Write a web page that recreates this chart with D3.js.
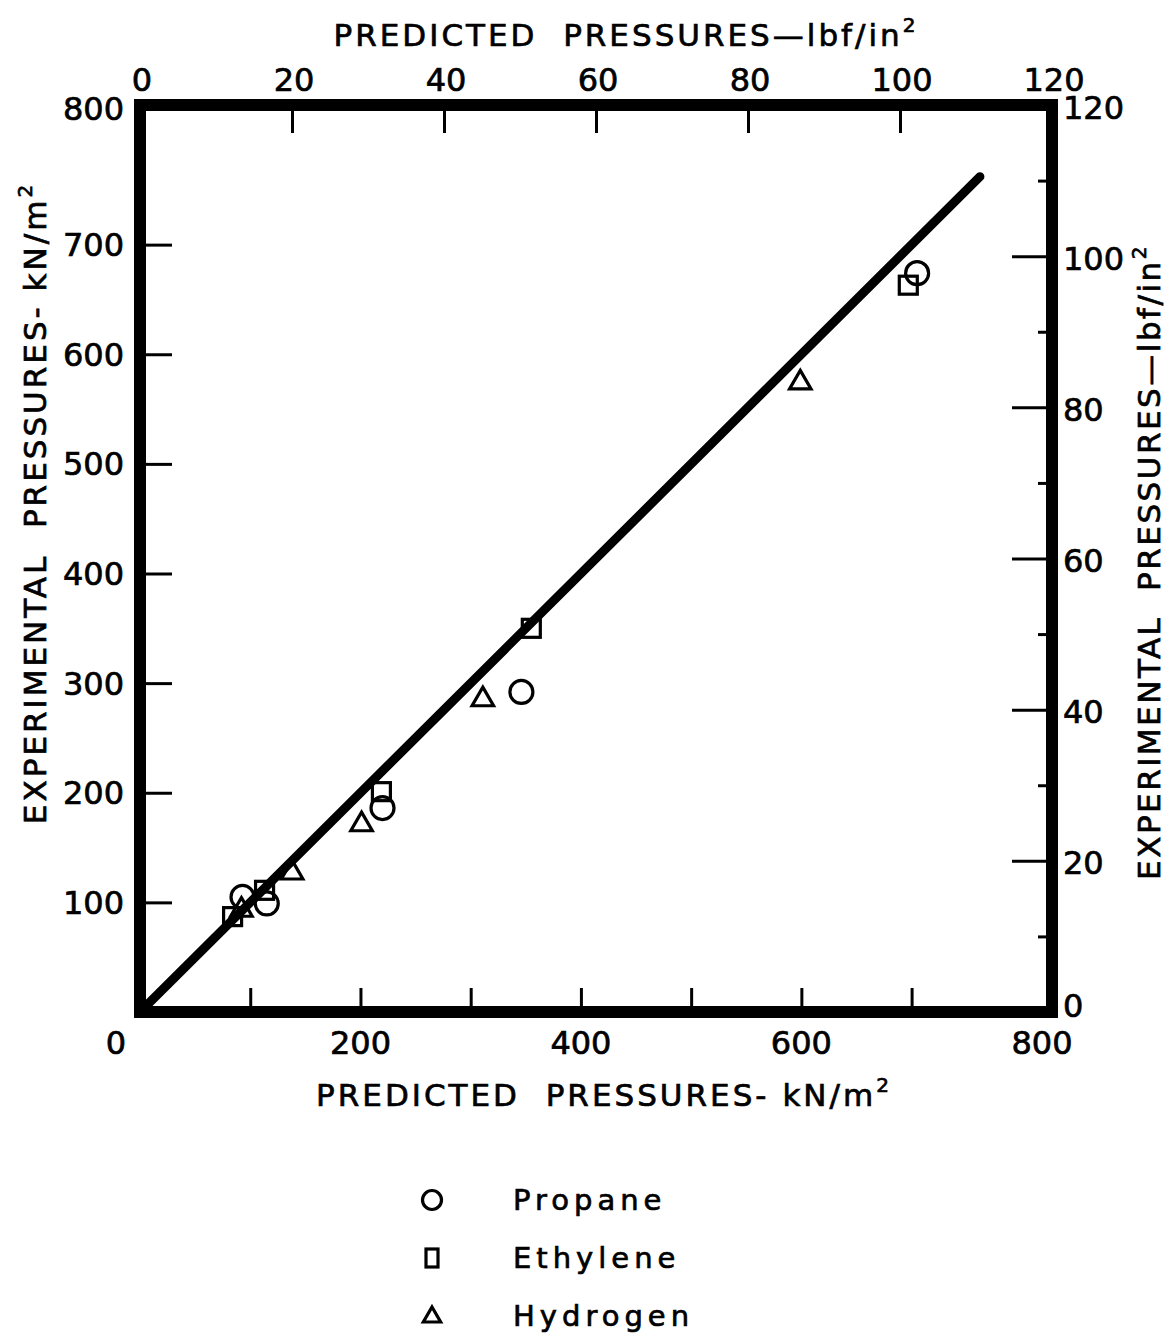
<!DOCTYPE html>
<html>
<head>
<meta charset="utf-8">
<script src="https://cdn.jsdelivr.net/npm/d3@7/dist/d3.min.js"></script>
<style>
  html, body { margin: 0; padding: 0; background: #fff; }
  svg { display: block; }
  text { font-family: "DejaVu Sans", sans-serif; fill: #000; stroke: #000; stroke-width: 0.7px; }
</style>
</head>
<body>
<svg id="chart" width="1169" height="1336"></svg>
<script>
// Predicted vs experimental pressures (kN/m^2), one pair of arrays per gas
const propaneX  = [705, 346, 220, 115, 93];
const propaneY  = [674, 292, 186, 99, 105];
const ethyleneX = [697, 355, 219, 113, 84];
const ethyleneY = [663, 350, 201, 111, 87];
const hydrogenX = [599, 311, 201, 138, 92];
const hydrogenY = [574, 285, 171, 127, 93];

// Line of perfect agreement
const lineX = [0, 762];
const lineY = [0, 762];

// Tick values
const kNTicks = [100, 200, 300, 400, 500, 600, 700];
const kNLabelsBottom = [200, 400, 600];
const kNLabelsLeft = [100, 200, 300, 400, 500, 600, 700];
const lbfMajor = [20, 40, 60, 80, 100];
const lbfMinor = [10, 30, 50, 70, 90, 110];
const lbfLabels = [0, 20, 40, 60, 80, 100, 120];

const legendNames = ["Propane", "Ethylene", "Hydrogen"];

const KN_PER_LBF = 6.894757;
const lbfMax = 120;
const kNMax = lbfMax * KN_PER_LBF;

const svg = d3.select("#chart");
const L = 140, R = 1052, T = 105, B = 1012;

const xKN = d3.scaleLinear().domain([0, kNMax]).range([L, R]);
const yKN = d3.scaleLinear().domain([0, kNMax]).range([B, T]);
const xLbf = d3.scaleLinear().domain([0, lbfMax]).range([L, R]);
const yLbf = d3.scaleLinear().domain([0, lbfMax]).range([B, T]);

const tickFont = 32;

// Tick marks, drawn inward from the frame
function tickLines(axis, tickLen) {
  return g => {
    g.call(axis.tickSize(-tickLen).tickFormat(""));
    g.select(".domain").remove();
    g.selectAll(".tick line").attr("stroke", "#000").attr("stroke-width", 3);
  };
}

svg.append("g").attr("transform", `translate(0,${B})`)
  .call(tickLines(d3.axisBottom(xKN).tickValues(kNTicks), 24));
svg.append("g").attr("transform", `translate(${L},0)`)
  .call(tickLines(d3.axisLeft(yKN).tickValues(kNTicks), 32));
svg.append("g").attr("transform", `translate(0,${T})`)
  .call(tickLines(d3.axisTop(xLbf).tickValues(lbfMajor), 28));
svg.append("g").attr("transform", `translate(${R},0)`)
  .call(tickLines(d3.axisRight(yLbf).tickValues(lbfMajor), 40));
svg.append("g").attr("transform", `translate(${R},0)`)
  .call(tickLines(d3.axisRight(yLbf).tickValues(lbfMinor), 14));

// Heavy frame
svg.append("rect")
  .attr("x", L).attr("y", T)
  .attr("width", R - L).attr("height", B - T)
  .attr("fill", "none").attr("stroke", "#000").attr("stroke-width", 12);

// Tick labels
const labels = svg.append("g").attr("font-size", tickFont);

labels.selectAll(".lb").data(kNLabelsBottom).join("text")
  .attr("x", d => xKN(d)).attr("y", B + 42)
  .attr("text-anchor", "middle").text(d => d);
labels.append("text").attr("x", L - 24).attr("y", B + 42)
  .attr("text-anchor", "middle").text("0");
labels.append("text").attr("x", R - 10).attr("y", B + 42)
  .attr("text-anchor", "middle").text("800");

labels.selectAll(".ll").data(kNLabelsLeft).join("text")
  .attr("x", L - 16).attr("y", d => yKN(d))
  .attr("dy", "0.36em").attr("text-anchor", "end").text(d => d);
labels.append("text").attr("x", L - 16).attr("y", T + 3)
  .attr("dy", "0.36em").attr("text-anchor", "end").text("800");

labels.selectAll(".lt").data(lbfLabels).join("text")
  .attr("x", d => xLbf(d) + 2).attr("y", T - 14)
  .attr("text-anchor", "middle").text(d => d);

labels.selectAll(".lr").data(lbfLabels).join("text")
  .attr("x", R + 11).attr("y", d => yLbf(d) + (d === 0 ? -7 : 2))
  .attr("dy", "0.36em").attr("text-anchor", "start").text(d => d);

// Axis titles with superscript unit
function title(g, x, y, rot, main, unit, spacing) {
  const t = g.append("text")
    .attr("transform", `translate(${x},${y}) rotate(${rot})`)
    .attr("text-anchor", "middle")
    .attr("font-size", 31)
    .attr("letter-spacing", spacing)
    .attr("xml:space", "preserve");
  t.append("tspan").text(main + unit);
  t.append("tspan").attr("font-size", 20).attr("dy", -14).text("2");
}
const titles = svg.append("g");
title(titles, 626, 46, 0, "PREDICTED  PRESSURES\u2014", "lbf/in", 3);
title(titles, 604, 1106, 0, "PREDICTED  PRESSURES- ", "kN/m", 3);
title(titles, 46, 503, -90, "EXPERIMENTAL  PRESSURES- ", "kN/m", 3);
title(titles, 1160, 562, -90, "EXPERIMENTAL  PRESSURES\u2014", "lbf/in", 2.5);

// Line of agreement
svg.append("line")
  .attr("x1", xKN(lineX[0])).attr("y1", yKN(lineY[0]))
  .attr("x2", xKN(lineX[1])).attr("y2", yKN(lineY[1]))
  .attr("stroke", "#000").attr("stroke-width", 9).attr("stroke-linecap", "round");

// Markers
const markerStyle = s => s.attr("fill", "none").attr("stroke", "#000").attr("stroke-width", 3.2);
const zip = (xs, ys) => xs.map((x, i) => ({ x, y: ys[i] }));

const pts = svg.append("g");
pts.selectAll(".sq").data(zip(ethyleneX, ethyleneY)).join("rect")
  .attr("x", d => xKN(d.x) - 9).attr("y", d => yKN(d.y) - 9)
  .attr("width", 18).attr("height", 18).call(markerStyle);
pts.selectAll(".ci").data(zip(propaneX, propaneY)).join("circle")
  .attr("cx", d => xKN(d.x)).attr("cy", d => yKN(d.y))
  .attr("r", 11.5).call(markerStyle);
const tri = d3.symbol().type(d3.symbolTriangle).size(200);
pts.selectAll(".tr").data(zip(hydrogenX, hydrogenY)).join("path")
  .attr("transform", d => `translate(${xKN(d.x)},${yKN(d.y)})`)
  .attr("d", tri).call(markerStyle);

// Legend
const legendY = d3.scalePoint().domain(legendNames).range([1200, 1316]);
const leg = svg.append("g");
leg.append("circle").attr("cx", 432).attr("cy", legendY("Propane")).attr("r", 9.5).call(markerStyle);
leg.append("rect").attr("x", 426).attr("y", legendY("Ethylene") - 9)
  .attr("width", 12).attr("height", 18).call(markerStyle);
leg.append("path").attr("transform", `translate(432,${legendY("Hydrogen") + 1})`)
  .attr("d", d3.symbol().type(d3.symbolTriangle).size(130)).call(markerStyle);
leg.selectAll(".lt").data(legendNames).join("text")
  .attr("x", 513).attr("y", d => legendY(d)).attr("dy", "0.36em")
  .attr("font-size", 29).attr("letter-spacing", 5).text(d => d);
</script>
</body>
</html>
